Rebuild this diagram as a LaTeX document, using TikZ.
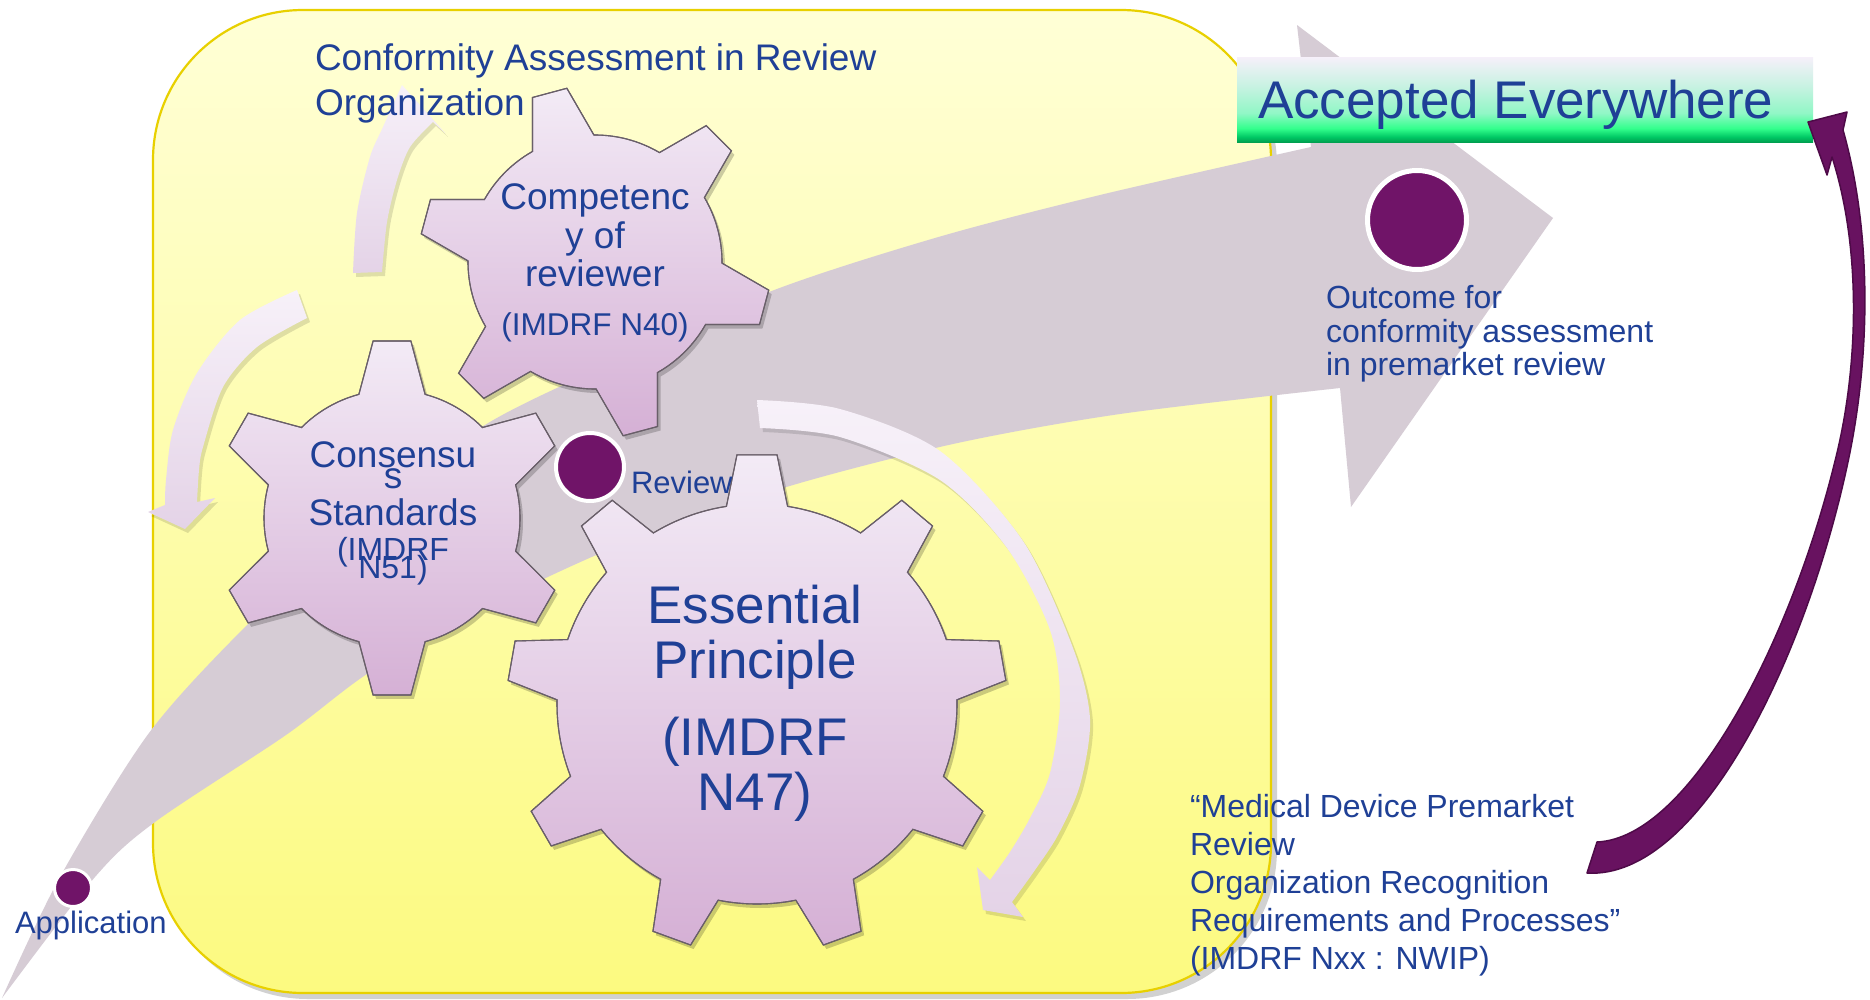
\documentclass[tikz,border=0pt]{standalone}
\usepackage{fontspec}
\setmainfont{Liberation Sans}

\definecolor{textblue}{RGB}{31,64,150}
\definecolor{flowgrey}{RGB}{214,204,213}
\definecolor{dotpurple}{RGB}{112,20,104}
\definecolor{arrowpurple}{RGB}{104,18,96}
\definecolor{arrowedge}{RGB}{78,10,72}
\definecolor{gearTop}{RGB}{243,235,246}
\definecolor{gearBottom}{RGB}{213,176,213}
\definecolor{gearEdge}{RGB}{105,95,105}
\definecolor{boxTop}{RGB}{255,255,214}
\definecolor{boxBottom}{RGB}{252,250,128}
\definecolor{boxEdge}{RGB}{232,208,0}
\definecolor{cycTop}{RGB}{247,241,249}
\definecolor{cycBottom}{RGB}{228,211,231}
\definecolor{gA}{RGB}{0,160,80}
\definecolor{gB}{RGB}{0,200,100}
\definecolor{gC}{RGB}{50,255,140}
\definecolor{gD}{RGB}{145,247,198}
\definecolor{gE}{RGB}{200,242,226}
\definecolor{gF}{RGB}{246,240,250}

% banner shading: dark green at the foot, pale lavender at the head
\pgfdeclareverticalshading{acceptshade}{100bp}{%
  color(0bp)=(gA); color(25bp)=(gA); color(28bp)=(gB); color(33bp)=(gC);
  color(42bp)=(gD); color(58bp)=(gE); color(75bp)=(gF); color(100bp)=(gF)}

% gear outline: centre x, centre y, last tooth index, pitch, first tooth angle,
% tip radius, root radius, tip half-angle, base half-angle
\newcommand{\gearpath}[9]{%
  ({#1+#7*cos(#5-#9)},{#2+#7*sin(#5-#9)})
  \foreach \k in {0,...,#3}{
    -- ({#1+#6*cos(#5+\k*#4-#8)},{#2+#6*sin(#5+\k*#4-#8)})
    -- ({#1+#6*cos(#5+\k*#4+#8)},{#2+#6*sin(#5+\k*#4+#8)})
    -- ({#1+#7*cos(#5+\k*#4+#9)},{#2+#7*sin(#5+\k*#4+#9)})
    arc[start angle={#5+\k*#4+#9}, end angle={#5+(\k+1)*#4-#9}, radius=#7]
  } -- cycle}

\begin{document}
\begin{tikzpicture}[x=1pt,y=-1pt,
  bluetext/.style={text=textblue, inner sep=0pt, outer sep=0pt, anchor=base},
  lefttext/.style={bluetext, anchor=base west},
  gearfill/.style={top color=gearTop, bottom color=gearBottom, draw=gearEdge, line width=1.1pt},
  softshadow/.style={fill=black, opacity=0.2},
  cycfill/.style={top color=cycTop, bottom color=cycBottom},
  dot/.style={circle, fill=dotpurple, draw=white, inner sep=0pt},
  big/.style={font=\fontsize{53}{60}\selectfont},
  mid/.style={font=\fontsize{37}{44}\selectfont},
  small/.style={font=\fontsize{32}{38}\selectfont}]

\fill[white] (0,0) rectangle (1870,999);
\useasboundingbox (0,0) rectangle (1870,999);

% yellow review-organisation panel
\fill[black, opacity=0.18, rounded corners=150pt] (158,16) rectangle (1277,999);
\shade[top color=boxTop, bottom color=boxBottom, rounded corners=150pt]
  (153,10) rectangle (1271,993);
\draw[boxEdge, line width=2.2pt, rounded corners=150pt] (153,10) rectangle (1271,993);

% broad flow arrow from application to outcome
\fill[flowgrey]
  plot[smooth] coordinates {(2,998) (60,877) (149,733) (247,625) (360,520) (480,428)
    (600,368) (769,292) (935,238) (1100,195) (1311,147)}
  -- (1297,25) -- (1553,218) -- (1351,507)
  -- plot[smooth] coordinates {(1340,388) (1120,414) (953,444) (783,488) (620,545)
    (480,610) (370,672) (286,735) (155,822) (95,877) (2,998)}
  -- cycle;

% circular arrows around the gears
\begin{scope}[shift={(3,4)}]
  \fill[softshadow, opacity=0.12]
    plot[smooth] coordinates {(353,273) (357,213) (370,157) (383,127) (402,85)}
    -- (445,133) -- (433,122)
    -- plot[smooth] coordinates {(433,122) (410,147) (397,180) (387,222) (382,272)} -- cycle;
  \fill[softshadow, opacity=0.12]
    plot[smooth] coordinates {(297,290) (240,320) (197,373) (173,430) (166,480) (165,505)}
    -- (148,512) -- (185,529) -- (215,498)
    -- plot[smooth] coordinates {(197,502) (199,470) (203,447) (223,387) (257,347) (307,318)} -- cycle;
  \fill[softshadow, opacity=0.12]
    plot[smooth] coordinates {(757,400) (840,409) (940,451) (1023,541) (1073,648) (1090,719)
      (1080,785) (1058,835) (1035,870) (1012,902)}
    -- (1023,917) -- (983,910) -- (977,867)
    -- plot[smooth] coordinates {(990,880) (1010,852) (1030,818) (1050,773) (1060,701)
      (1050,630) (1007,548) (940,480) (840,437) (760,428)} -- cycle;
\end{scope}
\shade[cycfill]
  plot[smooth] coordinates {(353,273) (357,213) (370,157) (383,127) (402,85)}
  -- (445,133) -- (433,122)
  -- plot[smooth] coordinates {(433,122) (410,147) (397,180) (387,222) (382,272)} -- cycle;
\shade[cycfill]
  plot[smooth] coordinates {(297,290) (240,320) (197,373) (173,430) (166,480) (165,505)}
  -- (148,512) -- (185,529) -- (215,498)
  -- plot[smooth] coordinates {(197,502) (199,470) (203,447) (223,387) (257,347) (307,318)} -- cycle;
\shade[cycfill]
  plot[smooth] coordinates {(757,400) (840,409) (940,451) (1023,541) (1073,648) (1090,719)
    (1080,785) (1058,835) (1035,870) (1012,902)}
  -- (1023,917) -- (983,910) -- (977,867)
  -- plot[smooth] coordinates {(990,880) (1010,852) (1030,818) (1050,773) (1060,701)
    (1050,630) (1007,548) (940,480) (840,437) (760,428)} -- cycle;

% gears
\fill[softshadow, shift={(3,4)}] \gearpath{595}{262}{5}{60}{15}{176}{127}{5.8}{14.5};
\shade[gearfill] \gearpath{595}{262}{5}{60}{15}{176}{127}{5.8}{14.5};
\draw[gearEdge, line width=1.1pt] \gearpath{595}{262}{5}{60}{15}{176}{127}{5.8}{14.5};

\fill[softshadow, shift={(3,4)}] \gearpath{392}{518}{5}{60}{30}{178}{128}{6.1}{15};
\shade[gearfill] \gearpath{392}{518}{5}{60}{30}{178}{128}{6.1}{15};
\draw[gearEdge, line width=1.1pt] \gearpath{392}{518}{5}{60}{30}{178}{128}{6.1}{15};

\node[dot, minimum size=68pt, line width=4pt] (review) at (590,467) {};

\fill[softshadow, shift={(3,4)}] \gearpath{757}{704}{8}{40}{30}{250}{200}{4.6}{8.8};
\shade[gearfill] \gearpath{757}{704}{8}{40}{30}{250}{200}{4.6}{8.8};
\draw[gearEdge, line width=1.1pt] \gearpath{757}{704}{8}{40}{30}{250}{200}{4.6}{8.8};

% gear captions
\node[bluetext, mid] (comp1) at (595,209) {Competenc};
\node[bluetext, mid] (comp2) at (595,248) {y of};
\node[bluetext, mid] (comp3) at (595,286) {reviewer};
\node[bluetext, font=\fontsize{31.5}{36}\selectfont] (comp4) at (595,335) {(IMDRF N40)};

\node[bluetext, mid] (cons1) at (393,467) {Consensu};
\node[bluetext, mid] (cons2) at (393,488) {s};
\node[bluetext, mid] (cons3) at (393,525) {Standards};
\node[bluetext, small] (cons4) at (393,560) {(IMDRF};
\node[bluetext, small] (cons5) at (393,578) {N51)};

\node[bluetext, big] (ess1) at (755,623) {Essential};
\node[bluetext, big] (ess2) at (755,678) {Principle};
\node[bluetext, big] (ess3) at (755,755) {(IMDRF};
\node[bluetext, big] (ess4) at (755,810) {N47)};

% labels
\node[lefttext, mid] (title1) at (315,70) {Conformity Assessment in Review};
\node[lefttext, mid] (title2) at (315,115) {Organization};
\node[lefttext, font=\fontsize{31}{36}\selectfont] (reviewtxt) at (631,493) {Review};
\node[lefttext, font=\fontsize{31}{36}\selectfont] (applytxt) at (15,933) {Application};
\node[lefttext, small] (out1) at (1326,308) {Outcome for};
\node[lefttext, small] (out2) at (1326,342) {conformity assessment};
\node[lefttext, small] (out3) at (1326,375) {in premarket review};
\node[lefttext, small] (doc1) at (1190,817) {“Medical Device Premarket};
\node[lefttext, small] (doc2) at (1190,855) {Review};
\node[lefttext, small] (doc3) at (1190,893) {Organization Recognition};
\node[lefttext, small] (doc4) at (1190,931) {Requirements and Processes”};
\node[lefttext, small] (doc5) at (1190,969) {(IMDRF Nxx : NWIP)};

% banner
\shade[shading=acceptshade] (1237,57) rectangle (1813,142);
\node[lefttext, big] (accepted) at (1258,118) {Accepted Everywhere};

% milestone dots
\node[dot, minimum size=99pt, line width=5pt] (outcome) at (1417,220) {};
\node[dot, minimum size=37pt, line width=3pt] (application) at (73,888) {};

% curved purple arrow from the document title up to the banner
\filldraw[fill=arrowpurple, draw=arrowedge, line width=1.5pt, line join=round]
  (1587,873) -- (1597,842)
  .. controls (1690,838) and (1792,640) .. (1836,457)
  .. controls (1858,368) and (1862,250) .. (1832,157)
  -- (1827,175) -- (1808,122) -- (1847,112) -- (1843,130)
  .. controls (1870,225) and (1872,345) .. (1849,457)
  .. controls (1808,655) and (1700,880) .. (1587,873)
  -- cycle;

\end{tikzpicture}
\end{document}
